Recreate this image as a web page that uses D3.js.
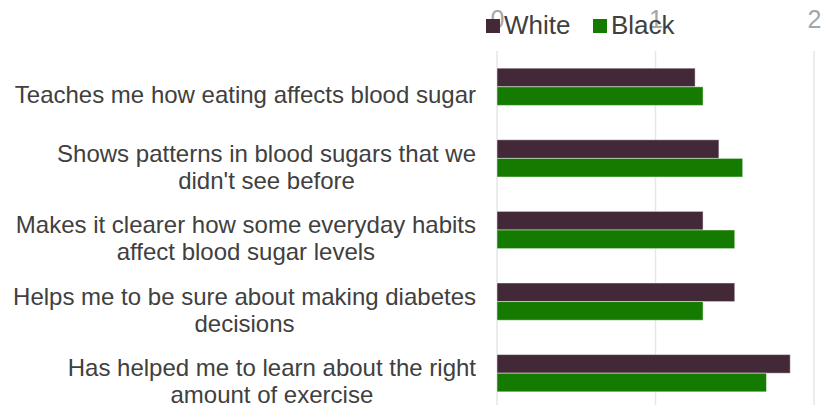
<!DOCTYPE html>
<html>
	<head>
		<script src="https://d3js.org/d3.v7.min.js"></script>
		<style>
			body { margin: 0; background: #fff; }
			svg { font-family: "Liberation Sans", Arial, sans-serif; }
		</style>
	</head>
	<body>
		<svg id="chart" width="823" height="405"></svg>
		<script type="text/javascript">
			var categories = [
				'Teaches me how eating affects blood sugar',
				"Shows patterns in blood sugars that we didn't see before",
				'Makes it clearer how some everyday habits affect blood sugar levels',
				'Helps me to be sure about making diabetes decisions',
				'Has helped me to learn about the right amount of exercise'
			];
			var seriesNames = ['White', 'Black'];
			var whiteValues = [1.25, 1.40, 1.30, 1.50, 1.85];
			var blackValues = [1.30, 1.55, 1.50, 1.30, 1.70];
			var tickValues = [0, 1, 2];
			var colors = ['#432838', '#147b00'];

			var data = categories.map(function(c, i) {
				return {cat: c, values: [whiteValues[i], blackValues[i]]};
			});

			var svg = d3.select('#chart');

			var x = d3.scaleLinear().domain([0, 2]).range([497, 814]);
			var y = d3.scaleBand().domain(categories).range([51, 409])
				.paddingInner(0.48).paddingOuter(0.24);
			var ySub = d3.scaleBand().domain(seriesNames).range([0, y.bandwidth()]);

			// gridlines
			svg.append('g').selectAll('line')
				.data(tickValues)
				.enter().append('line')
				.attr('x1', function(d) { return x(d); })
				.attr('x2', function(d) { return x(d); })
				.attr('y1', 51).attr('y2', 405)
				.attr('stroke', '#e6e6e6')
				.attr('stroke-width', 1.5);

			// top axis labels
			var axis = svg.append('g')
				.attr('transform', 'translate(0, 28)')
				.call(d3.axisTop(x).tickValues(tickValues).tickSize(0).tickPadding(0).tickFormat(d3.format('d')));
			axis.select('.domain').remove();
			axis.selectAll('text')
				.attr('fill', '#a6a6a6')
				.style('font-size', '25px')
				.style('font-family', '"Liberation Sans", Arial, sans-serif')
				.attr('dy', 0);

			// bars
			var groups = svg.append('g').selectAll('g')
				.data(data)
				.enter().append('g')
				.attr('transform', function(d) { return 'translate(0,' + y(d.cat) + ')'; });

			groups.selectAll('rect')
				.data(function(d) { return d.values.map(function(v, j) { return {name: seriesNames[j], value: v, i: j}; }); })
				.enter().append('rect')
				.attr('x', x(0))
				.attr('y', function(d) { return ySub(d.name); })
				.attr('width', function(d) { return x(d.value) - x(0); })
				.attr('height', ySub.bandwidth())
				.attr('fill', function(d) { return colors[d.i]; })
				.attr('stroke', '#ffffff')
				.attr('stroke-opacity', 0.45)
				.attr('stroke-width', 1);

			// category labels: wrapped, centred lines, block right-aligned
			var maxWidth = 468, lineHeight = 27, rightEdge = 476;
			var labels = svg.append('g')
				.attr('fill', '#404040')
				.style('font-size', '24px');

			categories.forEach(function(cat) {
				var words = cat.split(' ');
				var probe = labels.append('text');
				var lines = [], line = [];
				words.forEach(function(w) {
					line.push(w);
					probe.text(line.join(' '));
					if (probe.node().getComputedTextLength() > maxWidth && line.length > 1) {
						line.pop();
						lines.push(line.join(' '));
						line = [w];
					}
				});
				lines.push(line.join(' '));
				var widths = lines.map(function(l) { probe.text(l); return probe.node().getComputedTextLength(); });
				probe.remove();
				var blockW = d3.max(widths);
				var cx = rightEdge - blockW / 2;
				var cy = y(cat) + y.bandwidth() / 2 + 8;
				labels.selectAll(null)
					.data(lines)
					.enter().append('text')
					.attr('x', cx)
					.attr('y', function(d, i) { return cy + 8.6 + (i - (lines.length - 1) / 2) * lineHeight; })
					.attr('text-anchor', 'middle')
					.text(function(d) { return d; });
			});

			// legend
			var legendX = [486, 593];
			var legend = svg.append('g').selectAll('g')
				.data(seriesNames)
				.enter().append('g')
				.attr('transform', function(d, i) { return 'translate(' + legendX[i] + ', 19)'; });
			legend.append('rect')
				.attr('width', 14).attr('height', 14)
				.attr('fill', function(d, i) { return colors[i]; });
			legend.append('text')
				.attr('x', 18).attr('y', 14.5)
				.attr('fill', '#404040')
				.style('font-size', '26px')
				.text(function(d) { return d; });
		</script>
	</body>
</html>
